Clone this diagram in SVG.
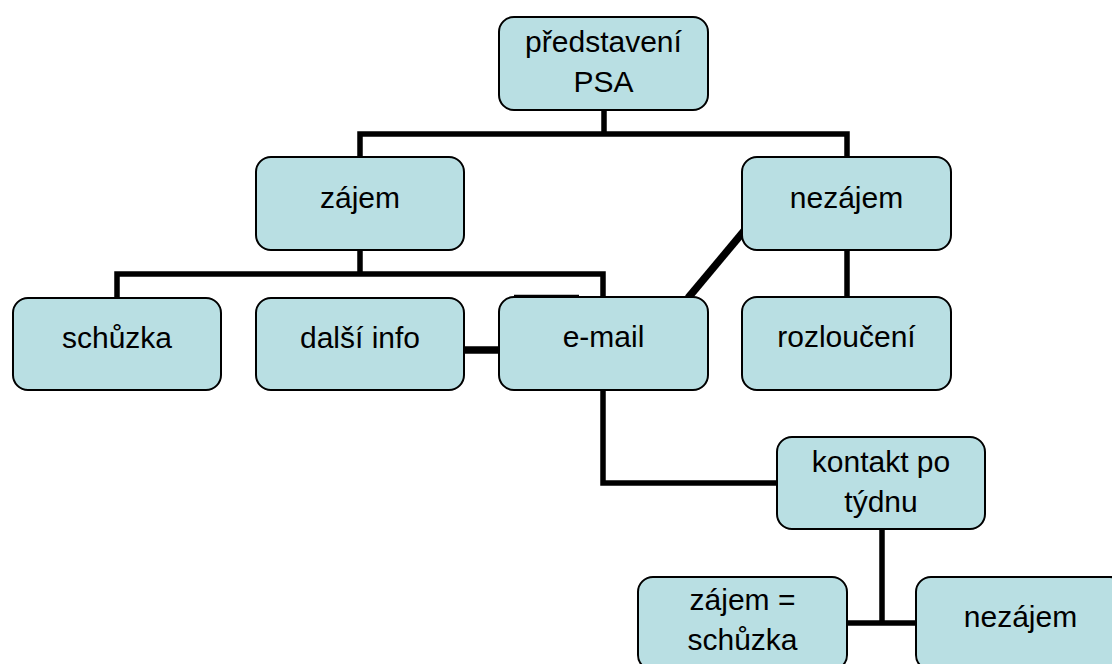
<svg xmlns="http://www.w3.org/2000/svg" width="1112" height="664" viewBox="0 0 1112 664">
<style>
.box{fill:#B9DFE3;stroke:#000;stroke-width:2}
.t{font-family:"Liberation Sans",Arial,sans-serif;font-size:30px;fill:#000;text-anchor:middle}
.c{stroke:#000;fill:none;stroke-width:5.5;stroke-linecap:butt;stroke-linejoin:miter}
.thick{stroke-width:7.5}
</style>
<rect width="1112" height="664" fill="#fff"/>
<g id="connectors">
<path class="c" d="M604,110 V134 M360,157 V134 H847 V157"/>
<path class="c" d="M360,250 V274 M117,298 V274 H603 V297"/>
<path class="c" d="M847,250 V297"/>
<path class="c thick" d="M464,350 H499"/>
<path class="c thick" d="M688,298 L744,231"/>
<path class="c" d="M603,390 V483 H777"/>
<path class="c" d="M882,529 V623 M847,623 H917"/>
<path d="M514,296 H579" stroke="#000" stroke-width="2.5"/>
</g>
<g id="n-predstaveni"><rect class="box" x="499" y="17" width="209" height="93" rx="15"/><text class="t" x="603.5" y="52">představení</text><text class="t" x="603.5" y="92">PSA</text></g>
<g id="n-zajem"><rect class="box" x="256" y="157" width="208" height="93" rx="15"/><text class="t" x="360" y="208">zájem</text></g>
<g id="n-nezajem"><rect class="box" x="742" y="157" width="209" height="93" rx="15"/><text class="t" x="846.5" y="208">nezájem</text></g>
<g id="n-schuzka"><rect class="box" x="13" y="298" width="208" height="92" rx="15"/><text class="t" x="117" y="348">schůzka</text></g>
<g id="n-dalsi"><rect class="box" x="256" y="298" width="208" height="92" rx="15"/><text class="t" x="360" y="348">další info</text></g>
<g id="n-email"><rect class="box" x="499" y="297" width="209" height="93" rx="15"/><text class="t" x="603.5" y="347">e-mail</text></g>
<g id="n-rozlouceni"><rect class="box" x="742" y="297" width="209" height="93" rx="15"/><text class="t" x="846.5" y="347">rozloučení</text></g>
<g id="n-kontakt"><rect class="box" x="777" y="437" width="208" height="92" rx="15"/><text class="t" x="881" y="472">kontakt po</text><text class="t" x="881" y="512">týdnu</text></g>
<g id="n-zajem-schuzka"><rect class="box" x="638" y="577" width="209" height="93" rx="15"/><text class="t" x="742.5" y="610">zájem =</text><text class="t" x="742.5" y="650">schůzka</text></g>
<g id="n-nezajem2"><rect class="box" x="916" y="577" width="209" height="93" rx="15"/><text class="t" x="1020.5" y="627">nezájem</text></g>
</svg>
